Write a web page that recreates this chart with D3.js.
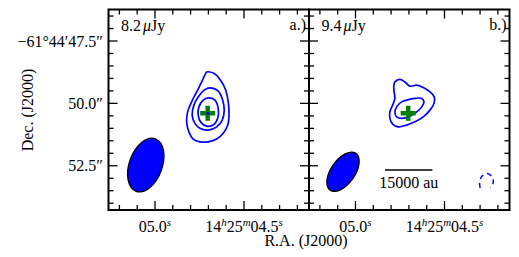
<!DOCTYPE html>
<html>
<head>
<meta charset="utf-8">
<script src="https://cdn.jsdelivr.net/npm/d3@7"></script>
<style>
  html, body { margin: 0; padding: 0; background: #fff; }
  svg text { font-family: "Liberation Serif", "Times New Roman", serif; font-size: 16px; fill: #000; }
</style>
</head>
<body>
<svg id="chart" width="519" height="257"></svg>
<script>
//// DATA

const PANEL_TAGS = ["a.)", "b.)"];
const RMS_UJY = ["8.2", "9.4"];
// RA in seconds past 14h25m, Dec in arcsec past -61°44'
const SOURCE = [4.704, 50.40];
const DEC_DEG = 61 + 44 / 60 + 50.4 / 3600;

const RA_MAJOR = [5.0, 4.5];
const RA_LABELS = [
  [["05.0", false], ["s", true]],
  [["14", false], ["h", true], ["25", false], ["m", true], ["04.5", false], ["s", true]]
];
const DEC_MAJOR = [47.5, 50.0, 52.5];
const DEC_LABELS = ["\u221261\u00b044\u203247.5\u2033", "50.0\u2033", "52.5\u2033"];

// contour rings, offsets from SOURCE in arcsec: [east, north]
const CONTOURS_A = [
  [[0.04,1.66],[-0.26,1.60],[-0.56,1.26],[-0.72,0.93],[-0.82,0.46],[-0.85,-0.07],[-0.80,-0.47],
   [-0.62,-0.80],[-0.36,-1.03],[-0.02,-1.14],[0.31,-1.14],[0.58,-1.03],[0.75,-0.74],[0.84,-0.34],
   [0.80,0.06],[0.64,0.46],[0.44,0.86],[0.24,1.26],[0.08,1.60]],
  [[-0.09,1.02],[-0.42,0.89],[-0.60,0.53],[-0.66,0.13],[-0.58,-0.27],[-0.36,-0.54],[-0.02,-0.67],
   [0.31,-0.60],[0.51,-0.40],[0.62,-0.07],[0.55,0.33],[0.38,0.66],[0.14,0.93]],
  [[-0.02,0.62],[-0.29,0.53],[-0.42,0.20],[-0.40,-0.20],[-0.22,-0.47],[0.04,-0.51],[0.27,-0.36],
   [0.38,-0.07],[0.35,0.26],[0.18,0.53]]
];
const CONTOURS_B = [
  [[0.53,1.26],[0.33,1.36],[0.13,1.26],[-0.07,1.09],[-0.34,1.13],[-0.60,1.04],[-0.87,0.86],
   [-1.04,0.66],[-1.03,0.40],[-0.87,0.13],[-0.60,-0.14],[-0.27,-0.34],[0.06,-0.47],[0.40,-0.54],
   [0.62,-0.43],[0.73,-0.20],[0.73,0.06],[0.62,0.33],[0.53,0.60],[0.57,0.93],[0.57,1.13]],
  [[0.06,0.53],[-0.27,0.60],[-0.54,0.60],[-0.63,0.46],[-0.54,0.26],[-0.34,0.06],[-0.07,-0.11],
   [0.26,-0.20],[0.46,-0.14],[0.53,0.06],[0.44,0.29],[0.26,0.46]]
];
const NEG_CONTOURS_B = [
  [[-2.87,-2.99],[-2.85,-2.75],[-2.95,-2.51],[-3.15,-2.41],[-3.35,-2.55],[-3.39,-2.79],[-3.27,-2.99]]
];
const PEAK_DOT = [true, false];

// synthesized beams, arcsec and degrees east of north
const BEAM_OFFSET = [[2.47, -2.07], [2.60, -2.34]];
const BEAM_AXES = [[2.24, 1.32], [1.80, 0.96]];
const BEAM_PA = [-20, -35];

const SCALE_BAR_AU = 15000;
const SCALE_BAR_ARCSEC = 1.9;
const SCALE_BAR_OFFSET = [-0.02, -2.27];

//// LAYOUT

const LEFT = 108.5, TOP = 9.5;
const PANEL_W = 200.5, PANEL_H = 200.5;
const RA_DOMAIN = [5.2612, 4.1348];
const DEC_DOMAIN = [46.2375, 54.273];
const MAJOR_LEN = 9, MINOR_LEN = 5;

const x = d3.scaleLinear().domain(RA_DOMAIN).range([0, PANEL_W]);
const y = d3.scaleLinear().domain(DEC_DOMAIN).range([0, PANEL_H]);
const toRA = e => SOURCE[0] + e / (15 * Math.cos(DEC_DEG * Math.PI / 180));
const toDec = n => SOURCE[1] - n;
const pxPerArcsec = y(1) - y(0);

const svg = d3.select("#chart");

const ring = d3.line()
  .x(d => x(toRA(d[0])))
  .y(d => y(toDec(d[1])))
  .curve(d3.curveCatmullRomClosed.alpha(0.5));
const arc = d3.line()
  .x(d => x(toRA(d[0])))
  .y(d => y(toDec(d[1])))
  .curve(d3.curveCatmullRom.alpha(0.5));

const drawTicks = (g) => {
  const raMinor = d3.range(42, 53).map(d => d / 10).filter(v => !RA_MAJOR.includes(v));
  const decMinor = d3.range(93, 109).map(d => d / 2).filter(v => !DEC_MAJOR.includes(v));
  const t = g.append("g").attr("stroke", "#000").attr("stroke-width", 1.3);
  const vTicks = [...RA_MAJOR.map(v => [v, MAJOR_LEN]), ...raMinor.map(v => [v, MINOR_LEN])];
  const hTicks = [...DEC_MAJOR.map(v => [v, MAJOR_LEN]), ...decMinor.map(v => [v, MINOR_LEN])];
  vTicks.forEach(([v, len]) => {
    t.append("line").attr("x1", x(v)).attr("x2", x(v)).attr("y1", 0).attr("y2", len);
    t.append("line").attr("x1", x(v)).attr("x2", x(v)).attr("y1", PANEL_H).attr("y2", PANEL_H - len);
  });
  hTicks.forEach(([v, len]) => {
    t.append("line").attr("y1", y(v)).attr("y2", y(v)).attr("x1", 0).attr("x2", len);
    t.append("line").attr("y1", y(v)).attr("y2", y(v)).attr("x1", PANEL_W).attr("x2", PANEL_W - len);
  });
};

const renderPanel = (i) => {
  const g = svg.append("g").attr("transform", `translate(${LEFT + i * PANEL_W},${TOP})`);
  g.append("clipPath").attr("id", "clip" + i)
    .append("rect").attr("width", PANEL_W).attr("height", PANEL_H);
  const inner = g.append("g").attr("clip-path", `url(#clip${i})`);

  // beam
  const [be, bn] = BEAM_OFFSET[i];
  inner.append("ellipse")
    .attr("transform", `translate(${x(toRA(be))},${y(toDec(bn))}) rotate(${-BEAM_PA[i]})`)
    .attr("rx", BEAM_AXES[i][1] / 2 * pxPerArcsec)
    .attr("ry", BEAM_AXES[i][0] / 2 * pxPerArcsec)
    .attr("fill", "#0000ff").attr("stroke", "#000").attr("stroke-width", 1.3);

  const contours = i === 0 ? CONTOURS_A : CONTOURS_B;
  inner.selectAll(".pos").data(contours).enter().append("path")
    .attr("class", "pos")
    .attr("d", ring)
    .attr("fill", "none").attr("stroke", "#0000ff").attr("stroke-width", 1.7);

  if (i === 1) {
    inner.selectAll(".neg").data(NEG_CONTOURS_B).enter().append("path")
      .attr("class", "neg")
      .attr("d", arc)
      .attr("fill", "none").attr("stroke", "#0000ff").attr("stroke-width", 1.5)
      .attr("stroke-dasharray", "5,4");

    const cx = x(toRA(SCALE_BAR_OFFSET[0])), cy = y(toDec(SCALE_BAR_OFFSET[1]));
    const half = SCALE_BAR_ARCSEC / 2 * pxPerArcsec;
    inner.append("line")
      .attr("x1", cx - half).attr("x2", cx + half).attr("y1", cy).attr("y2", cy)
      .attr("stroke", "#000").attr("stroke-width", 1.6);
    inner.append("text").attr("x", cx).attr("y", cy + 18)
      .attr("text-anchor", "middle").text(`${SCALE_BAR_AU} au`);
  }

  // source position
  const sx = x(SOURCE[0]), sy = y(SOURCE[1]);
  inner.append("path")
    .attr("d", `M${sx - 7.5},${sy}H${sx + 7.5}M${sx},${sy - 7.5}V${sy + 7.5}`)
    .attr("stroke", "#008000").attr("stroke-width", 4.5).attr("fill", "none");
  if (PEAK_DOT[i]) {
    inner.append("circle").attr("cx", sx).attr("cy", sy).attr("r", 1.6).attr("fill", "#0000ff");
  }

  drawTicks(g);

  g.append("rect").attr("width", PANEL_W).attr("height", PANEL_H)
    .attr("fill", "none").attr("stroke", "#000").attr("stroke-width", 2);

  // texts
  const rms = g.append("text").attr("x", 12.5).attr("y", 21.5);
  rms.append("tspan").text(RMS_UJY[i]);
  rms.append("tspan").attr("dx", 2).attr("font-style", "italic").text("\u03bc");
  rms.append("tspan").text("Jy");
  g.append("text").attr("x", PANEL_W - 3).attr("y", 20.5)
    .attr("text-anchor", "end").text(PANEL_TAGS[i]);

  RA_MAJOR.forEach((v, k) => {
    const lab = g.append("text").attr("x", x(v)).attr("y", PANEL_H + 15.5)
      .attr("text-anchor", "middle");
    RA_LABELS[k].forEach(([s, sup]) => {
      if (sup) lab.append("tspan").attr("dy", -6).attr("font-size", 11).attr("font-style", "italic").text(s);
      else lab.append("tspan").attr("dy", lab.node().childNodes.length ? 6 : 0).text(s);
    });
  });

  if (i === 0) {
    DEC_MAJOR.forEach((v, k) => {
      g.append("text").attr("x", -5.5).attr("y", y(v) + 5.5)
        .attr("text-anchor", "end").text(DEC_LABELS[k]);
    });
  }
};

PANEL_TAGS.forEach((d, i) => renderPanel(i));

svg.append("text")
  .attr("transform", "translate(33,110) rotate(-90)")
  .attr("text-anchor", "middle").text("Dec. (J2000)");
svg.append("text")
  .attr("x", 306).attr("y", 246)
  .attr("text-anchor", "middle").text("R.A. (J2000)");
</script>
</body>
</html>
